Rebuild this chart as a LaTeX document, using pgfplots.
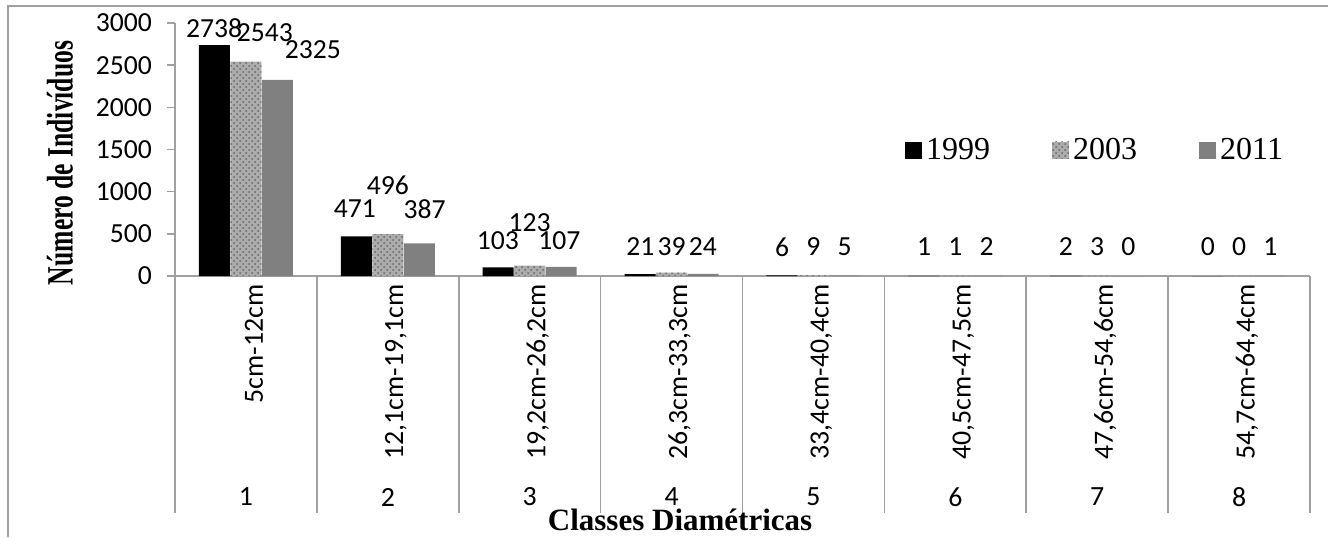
\documentclass[border=0pt]{standalone}
\usepackage{pgfplots}
\pgfplotsset{compat=1.18}
\usepackage{fontspec}
\setmainfont{Liberation Serif}
\newfontfamily\calibri{Carlito}
\usetikzlibrary{patterns}
\definecolor{axgray}{RGB}{160,160,160}
\definecolor{bargray}{RGB}{128,128,128}
\definecolor{texgray}{RGB}{172,172,172}
\begin{document}
\begin{tikzpicture}
\useasboundingbox (0,0) rectangle (664pt,268.5pt);
\draw[axgray, line width=1pt] (4pt,0) -- (4pt,265.5pt) -- (664pt,265.5pt);
\begin{axis}[
  at={(87.5pt,130.5pt)}, anchor=south west,
  scale only axis, width=567.5pt, height=126.5pt,
  xmin=0.5, xmax=8.5, ymin=0, ymax=3000,
  clip=false,
  axis x line=bottom, axis y line=left,
  axis line style={draw=axgray, line width=0.8pt, -},
  ytick={0,500,1000,1500,2000,2500,3000},
  yticklabels={0,500,1000,1500,2000,2500,3000},
  scaled y ticks=false,
  yticklabel style={font=\calibri\fontsize{13.8}{15}\selectfont, xshift=-4pt},
  tick align=outside,
  major tick length=4pt,
  ytick style={draw=axgray, line width=0.8pt},
  xtick={1,...,8},
  xtick style={draw=none},
  xticklabels={{5cm-12cm},{12,1cm-19,1cm},{19,2cm-26,2cm},{26,3cm-33,3cm},{33,4cm-40,4cm},{40,5cm-47,5cm},{47,6cm-54,6cm},{54,7cm-64,4cm}},
  xticklabel style={rotate=90, anchor=east, inner sep=0pt, yshift=-4pt, font=\calibri\fontsize{13.9}{15}\selectfont},
  xlabel={Classes Diamétricas},
  every axis x label/.style={at={(rel axis cs:0.445,0)}, yshift=-122pt, anchor=center, font=\bfseries\fontsize{15.5}{17}\selectfont},
  ylabel={\scalebox{1}[1.45]{Número de Indivíduos}},
  every axis y label/.style={at={(rel axis cs:0,0.447)}, xshift=-57.5pt, rotate=90, anchor=center, font=\bfseries\fontsize{12.8}{14}\selectfont},
  legend style={draw=none, fill=none, at={(0.643,0.498)}, anchor=west, inner sep=0pt, legend columns=3, font=\fontsize{16}{18}\selectfont, /tikz/every even column/.append style={column sep=29pt}},
  legend image code/.code={\fill[#1] (0pt,-4.25pt) rectangle (8.5pt,4.25pt);},
]
\addplot[ybar, bar width=0.218, bar shift=-0.222, fill=black, draw=none] coordinates {(1,2738) (2,471) (3,103) (4,21) (5,6) (6,1) (7,2) (8,0)};
\addplot[ybar, bar width=0.218, bar shift=0, fill=texgray, draw=none, postaction={pattern=crosshatch dots, pattern color=black!60}] coordinates {(1,2543) (2,496) (3,123) (4,39) (5,9) (6,1) (7,3) (8,0)};
\addplot[ybar, bar width=0.218, bar shift=0.222, fill=bargray, draw=none] coordinates {(1,2325) (2,387) (3,107) (4,24) (5,5) (6,2) (7,0) (8,1)};
\legend{1999,2003,2011}
\addplot[forget plot, draw=none, mark=none, nodes near coords, point meta=explicit symbolic, nodes near coords style={anchor=center, inner sep=0pt, font=\calibri\fontsize{13.8}{15}\selectfont}] table[meta=lab] {
x y lab
0.775 2942 2738
1.768 795 471
2.775 415 103
3.78 344 21
4.78 344 6
5.78 344 1
6.78 344 2
7.78 344 0
1.134 2883 2543
2.0 1080 496
3.0 629 123
4.0 344 39
5.0 344 9
6.0 344 1
7.0 344 3
8.0 344 0
1.472 2681 2325
2.26 795 387
3.21 415 107
4.22 344 24
5.22 344 5
6.22 344 2
7.22 344 0
8.22 344 1
};
\pgfplotsinvokeforeach{0.5,1.5,2.5,3.5,4.5,5.5,6.5,7.5,8.5}{\draw[axgray, line width=0.8pt] (axis cs:#1,0) -- ++(0pt,-118.5pt);}
\pgfplotsinvokeforeach{1,2,3,4,5,6,7,8}{\node[font=\calibri\fontsize{13.9}{15}\selectfont] at (axis cs:#1,0) [yshift=-110.5pt] {#1};}
\end{axis}
\end{tikzpicture}
\end{document}
